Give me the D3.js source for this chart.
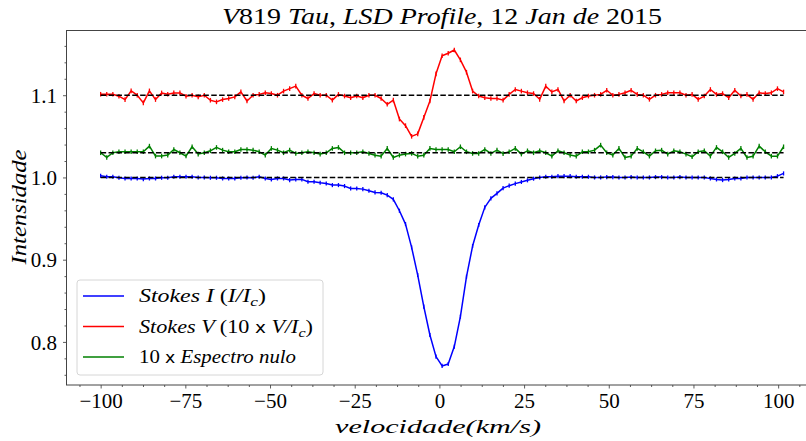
<!DOCTYPE html>
<html>
<head>
<meta charset="utf-8">
<script src="https://cdn.jsdelivr.net/npm/d3@7"></script>
<style>
  body { margin: 0; background: #fff; }
  svg text { font-family: 'Liberation Serif', 'DejaVu Serif', serif; fill: #000; }
</style>
</head>
<body>
<script>
// Velocity grid (km/s)
const velocity = [
  -100, -98.2, -96.4, -94.6, -92.8, -91, -89.2, -87.4, -85.6, -83.8,
  -82, -80.2, -78.4, -76.6, -74.8, -73, -71.2, -69.4, -67.6, -65.8,
  -64, -62.2, -60.4, -58.6, -56.8, -55, -53.2, -51.4, -49.6, -47.8,
  -46, -44.2, -42.4, -40.6, -38.8, -37, -35.2, -33.4, -31.6, -29.8,
  -28, -26.2, -24.4, -22.6, -20.8, -19, -17.2, -15.4, -13.6, -11.8,
  -10, -8.2, -6.4, -4.6, -2.8, -1, 0.8, 2.6, 4.4, 6.2,
  8, 9.8, 11.6, 13.4, 15.2, 17, 18.8, 20.6, 22.4, 24.2,
  26, 27.8, 29.6, 31.4, 33.2, 35, 36.8, 38.6, 40.4, 42.2,
  44, 45.8, 47.6, 49.4, 51.2, 53, 54.8, 56.6, 58.4, 60.2,
  62, 63.8, 65.6, 67.4, 69.2, 71, 72.8, 74.6, 76.4, 78.2,
  80, 81.8, 83.6, 85.4, 87.2, 89, 90.8, 92.6, 94.4, 96.2,
  98, 99.8, 101.6
];

// Stokes I (I/Ic)
const stokesI = [
  1.0020, 1.0008, 1.0008, 0.9996, 0.9988, 0.9988, 0.9988, 0.9980, 0.9988, 0.9988,
  0.9996, 0.9996, 1.0008, 1.0008, 1.0008, 1.0008, 1.0000, 1.0000, 0.9996, 0.9996,
  0.9988, 0.9988, 0.9988, 0.9996, 1.0000, 0.9996, 1.0008, 0.9988, 0.9976, 0.9988,
  0.9988, 0.9968, 0.9976, 0.9976, 0.9947, 0.9947, 0.9935, 0.9927, 0.9907, 0.9907,
  0.9895, 0.9866, 0.9866, 0.9858, 0.9838, 0.9818, 0.9814, 0.9785, 0.9733, 0.9595,
  0.9433, 0.9150, 0.8813, 0.8429, 0.8084, 0.7821, 0.7708, 0.7732, 0.7943, 0.8307,
  0.8793, 0.9166, 0.9421, 0.9636, 0.9745, 0.9806, 0.9870, 0.9900, 0.9925, 0.9945,
  0.9965, 0.9985, 1.0000, 1.0008, 1.0008, 1.0016, 1.0016, 1.0016, 1.0008, 1.0008,
  1.0008, 1.0000, 1.0000, 1.0004, 1.0004, 1.0000, 1.0000, 1.0004, 1.0000, 1.0000,
  1.0000, 1.0004, 1.0004, 1.0000, 1.0000, 1.0004, 1.0000, 1.0000, 1.0000, 1.0000,
  0.9988, 0.9976, 0.9968, 0.9976, 0.9988, 0.9988, 1.0000, 1.0000, 1.0000, 1.0000,
  1.0000, 1.0016, 1.0049
];

// Stokes V (10 x V/Ic), shifted to 1.1
const stokesV = [
  1.1012, 1.1012, 1.1012, 1.0988, 1.0947, 1.1053, 1.1000, 1.0907, 1.1053, 1.0947,
  1.1028, 1.1012, 1.1028, 1.1028, 1.0988, 1.1000, 1.0980, 1.1000, 1.0939, 1.0919,
  1.0947, 1.0960, 1.0980, 1.1040, 1.0930, 1.1000, 1.1010, 1.1030, 1.1020, 1.1000,
  1.1050, 1.1080, 1.1110, 1.1000, 1.0960, 1.1020, 1.1000, 1.1000, 1.0940, 1.1010,
  1.0990, 1.0970, 1.0990, 1.0970, 1.1000, 1.1000, 1.0960, 1.0890, 1.0940, 1.0710,
  1.0630, 1.0500, 1.0530, 1.0730, 1.0930, 1.1260, 1.1480, 1.1510, 1.1550, 1.1430,
  1.1280, 1.1050, 1.0990, 1.0970, 1.0960, 1.0960, 1.0940, 1.1010, 1.1070, 1.1050,
  1.1030, 1.1020, 1.0950, 1.1110, 1.1040, 1.1070, 1.0930, 1.1000, 1.0930, 1.0970,
  1.0990, 1.1000, 1.1010, 1.1060, 1.1000, 1.1010, 1.1030, 1.1060, 1.1010, 1.1000,
  1.0950, 1.1000, 1.1010, 1.1030, 1.1030, 1.1030, 1.1000, 1.1010, 1.0950, 1.0990,
  1.1070, 1.1010, 1.1020, 1.0970, 1.1060, 1.0990, 1.1010, 1.0950, 1.1030, 1.1020,
  1.1030, 1.1080, 1.1040
];

// 10 x null spectrum, shifted to 1.03
const nullSpec = [
  1.0300, 1.0243, 1.0300, 1.0312, 1.0312, 1.0312, 1.0312, 1.0312, 1.0381, 1.0260,
  1.0260, 1.0272, 1.0340, 1.0300, 1.0260, 1.0373, 1.0284, 1.0300, 1.0324, 1.0365,
  1.0332, 1.0312, 1.0312, 1.0340, 1.0340, 1.0332, 1.0312, 1.0272, 1.0353, 1.0332,
  1.0300, 1.0332, 1.0292, 1.0300, 1.0312, 1.0300, 1.0284, 1.0300, 1.0353, 1.0365,
  1.0300, 1.0300, 1.0300, 1.0312, 1.0292, 1.0271, 1.0259, 1.0353, 1.0243, 1.0271,
  1.0284, 1.0292, 1.0259, 1.0271, 1.0353, 1.0340, 1.0340, 1.0340, 1.0312, 1.0373,
  1.0312, 1.0292, 1.0292, 1.0340, 1.0292, 1.0332, 1.0290, 1.0312, 1.0353, 1.0284,
  1.0324, 1.0300, 1.0324, 1.0300, 1.0259, 1.0324, 1.0300, 1.0272, 1.0259, 1.0312,
  1.0312, 1.0332, 1.0393, 1.0300, 1.0272, 1.0353, 1.0243, 1.0259, 1.0353, 1.0312,
  1.0259, 1.0324, 1.0332, 1.0284, 1.0324, 1.0312, 1.0284, 1.0251, 1.0312, 1.0324,
  1.0259, 1.0365, 1.0312, 1.0243, 1.0292, 1.0353, 1.0243, 1.0259, 1.0381, 1.0312,
  1.0259, 1.0259, 1.0373
];

// error bar half-heights and reference levels
const errI = 0.0025, errV = 0.0028, errN = 0.0028;
const refLevels = [1.1, 1.03, 1.0];

const xTicks = [-100, -75, -50, -25, 0, 25, 50, 75, 100];
const yTicks = [0.8, 0.9, 1.0, 1.1];

const width = 806, height = 441;
const margin = { top: 30.5, bottom: 56, left: 66.5 };

const svg = d3.select('body').append('svg')
  .attr('width', width)
  .attr('height', height);

const xScale = d3.scaleLinear()
  .domain([-110.08, 111.68])
  .range([margin.left, margin.left + 221.76 * 3.3875]);

const yScale = d3.scaleLinear()
  .domain([0.7476, 1.1787])
  .range([height - margin.bottom, margin.top]);

const plotBottom = height - margin.bottom;

// minor ticks
const xMinor = d3.range(-106.25, 111, 6.25).filter(v => Math.abs(v % 25) > 0.01);
const yMinor = d3.range(0.76, 1.18, 0.02).filter(v => Math.abs(Math.round(v * 10) - v * 10) > 0.01);

svg.append('g')
  .attr('transform', `translate(0, ${plotBottom})`)
  .call(d3.axisBottom(xScale).tickValues(xMinor).tickSize(2).tickFormat(''))
  .call(g => g.select('.domain').remove())
  .selectAll('line').attr('stroke', '#333').attr('stroke-width', 0.8);

svg.append('g')
  .attr('transform', `translate(${margin.left}, 0)`)
  .call(d3.axisLeft(yScale).tickValues(yMinor).tickSize(2).tickFormat(''))
  .call(g => g.select('.domain').remove())
  .selectAll('line').attr('stroke', '#333').attr('stroke-width', 0.8);

// major ticks
let xAxis = svg.append('g')
  .attr('transform', `translate(0, ${plotBottom})`)
  .call(d3.axisBottom(xScale).tickValues(xTicks).tickSize(3.5).tickPadding(5));
xAxis.select('.domain').remove();
xAxis.selectAll('line').attr('stroke', '#333').attr('stroke-width', 0.8);
xAxis.selectAll('text')
  .style('font-family', "'Liberation Serif', serif")
  .style('font-size', '21px')
  .attr('dy', '0.71em');

let yAxis = svg.append('g')
  .attr('transform', `translate(${margin.left}, 0)`)
  .call(d3.axisLeft(yScale).tickValues(yTicks).tickSize(3.5).tickPadding(6).tickFormat(d3.format('.1f')));
yAxis.select('.domain').remove();
yAxis.selectAll('line').attr('stroke', '#333').attr('stroke-width', 0.8);
yAxis.selectAll('text')
  .style('font-family', "'Liberation Serif', serif")
  .style('font-size', '21px')
  .attr('dy', '0.34em');

// frame (right side falls outside the picture)
svg.append('rect')
  .attr('x', margin.left)
  .attr('y', margin.top)
  .attr('width', xScale.range()[1] - margin.left)
  .attr('height', plotBottom - margin.top)
  .attr('fill', 'none')
  .attr('stroke', '#444')
  .attr('stroke-width', 1);

// series
const series = [
  { values: stokesI, err: errI, color: '#0000ff' },
  { values: stokesV, err: errV, color: '#ff0000' },
  { values: nullSpec, err: errN, color: '#008000' }
];

const line = d3.line()
  .x(d => xScale(d[0]))
  .y(d => yScale(d[1]));

series.forEach(s => {
  const pts = velocity.map((v, i) => [v, s.values[i]]);
  svg.append('path')
    .datum(pts)
    .attr('d', line)
    .attr('fill', 'none')
    .attr('stroke', s.color)
    .attr('stroke-width', 1.5)
    .attr('stroke-linejoin', 'round');

  svg.append('g').selectAll('line')
    .data(pts)
    .enter()
    .append('line')
    .attr('x1', d => xScale(d[0]))
    .attr('x2', d => xScale(d[0]))
    .attr('y1', d => yScale(d[1] - s.err))
    .attr('y2', d => yScale(d[1] + s.err))
    .attr('stroke', s.color)
    .attr('stroke-width', 1.3);
});

// dashed reference lines
svg.append('g').selectAll('line')
  .data(refLevels)
  .enter()
  .append('line')
  .attr('x1', xScale(velocity[0]))
  .attr('x2', xScale(velocity[velocity.length - 1]))
  .attr('y1', d => yScale(d))
  .attr('y2', d => yScale(d))
  .attr('stroke', '#000')
  .attr('stroke-width', 1.5)
  .attr('stroke-dasharray', '5.5,2.4');

// title
const title = svg.append('text')
  .attr('x', 442)
  .attr('y', 24)
  .attr('text-anchor', 'middle')
  .attr('textLength', 440)
  .attr('lengthAdjust', 'spacingAndGlyphs')
  .style('font-size', '23px');
[
  ['V', 'italic'], ['819 ', 'normal'], ['Tau', 'italic'], [', ', 'normal'],
  ['LSD Profile', 'italic'], [', 12 ', 'normal'], ['Jan de', 'italic'], [' 2015', 'normal']
].forEach(p => title.append('tspan').style('font-style', p[1]).text(p[0]));

// axis labels
svg.append('text')
  .attr('x', 438)
  .attr('y', 433)
  .attr('text-anchor', 'middle')
  .attr('textLength', 206)
  .attr('lengthAdjust', 'spacingAndGlyphs')
  .style('font-size', '19px')
  .style('font-style', 'italic')
  .text('velocidade(km/s)');

svg.append('text')
  .attr('transform', 'rotate(-90)')
  .attr('x', -207)
  .attr('y', 26)
  .attr('text-anchor', 'middle')
  .attr('textLength', 115)
  .attr('lengthAdjust', 'spacingAndGlyphs')
  .style('font-size', '20px')
  .style('font-style', 'italic')
  .text('Intensidade');

// legend
const legend = svg.append('g');
legend.append('rect')
  .attr('x', 77)
  .attr('y', 280)
  .attr('width', 246)
  .attr('height', 95)
  .attr('rx', 3)
  .attr('fill', '#fff')
  .attr('fill-opacity', 0.8)
  .attr('stroke', '#d6d6d6')
  .attr('stroke-width', 1);

const legendRows = [
  { color: '#0000ff', len: 127, parts: [['Stokes I ', 'italic'], ['(', 'normal'], ['I/I', 'italic'], ['c', 'sub'], [')', 'normal']] },
  { color: '#ff0000', len: 174, parts: [['Stokes V ', 'italic'], ['(10 ', 'normal'], ['x', 'sans'], [' ', 'normal'], ['V/I', 'italic'], ['c', 'sub'], [')', 'normal']] },
  { color: '#008000', len: 157, parts: [['10 ', 'normal'], ['x', 'sans'], [' ', 'normal'], ['Espectro nulo', 'italic']] }
];

legendRows.forEach((r, i) => {
  const cy = 296 + i * 30.5;
  legend.append('line')
    .attr('x1', 83).attr('x2', 124)
    .attr('y1', cy).attr('y2', cy)
    .attr('stroke', r.color)
    .attr('stroke-width', 1.5);
  const t = legend.append('text')
    .attr('x', 139)
    .attr('y', cy + 6)
    .attr('textLength', r.len)
    .attr('lengthAdjust', 'spacingAndGlyphs')
    .style('font-size', '18px');
  r.parts.forEach(p => {
    const ts = t.append('tspan').text(p[0]);
    if (p[1] === 'italic') ts.style('font-style', 'italic');
    if (p[1] === 'sub') ts.style('font-style', 'italic').style('font-size', '13px').attr('dy', 4);
    if (p[1] === 'sans') ts.style('font-family', "'DejaVu Sans', sans-serif").style('font-size', '15px');
    if (p[1] !== 'sub' && p[0].startsWith(')')) ts.attr('dy', -4);
  });
});
</script>
</body>
</html>
